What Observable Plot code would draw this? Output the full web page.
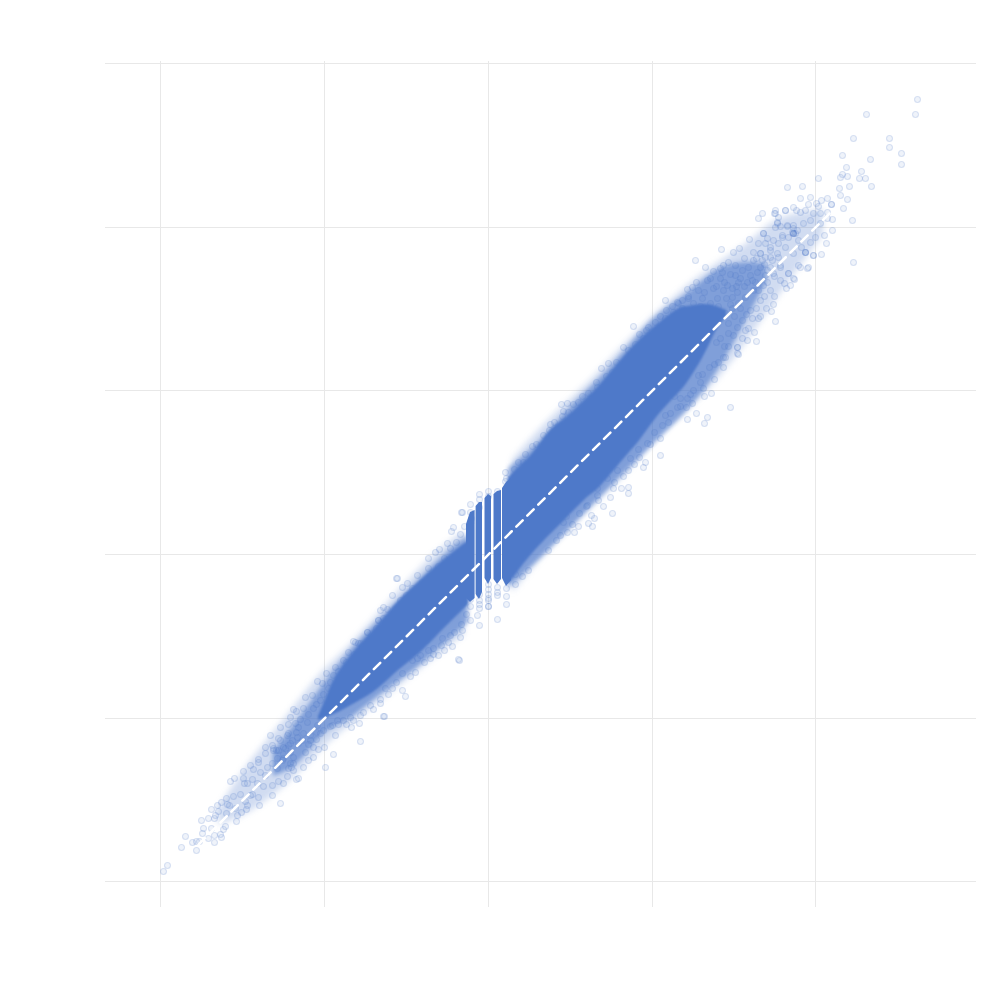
<!DOCTYPE html>
<html>
<head>
<meta charset="utf-8">
<script src="https://cdn.jsdelivr.net/npm/d3@7"></script>
<script src="https://cdn.jsdelivr.net/npm/@observablehq/plot@0.6"></script>
<style>html,body{margin:0;padding:0;background:#fff}svg{display:block}</style>
</head>
<body>
<div id="chart"></div>
<script>
// Values. The reference prints no tick labels, so the units are
// its own grid: one grid interval = 164 units, origin where the dashed line crosses the centre grid.
const xTicks = [-328,-164,0,164,327];
const yTicks = [-327,-164,0,164,327,491];
const refX = [-290,341];
const refY = [-290,341];

const lowerTail = [[-325,-317],[-321,-311],[-307,-293],[-303,-282],[-292,-296],[-296,-288],[-292,-287],[-289,-287],[-286,-279],[-285,-274],[-287,-266],[-280,-264],[-277,-274],[-280,-284],[-274,-288],[-274,-281],[-268,-280],[-267,-283],[-265,-275],[-263,-272],[-274,-264],[-273,-261],[-277,-255],[-270,-257],[-271,-251],[-267,-248],[-262,-244],[-261,-250],[-259,-251],[-262,-259],[-255,-242],[-253,-254],[-251,-261],[-252,-267],[-247,-258],[-248,-240],[-242,-255],[-241,-251],[-243,-247],[-238,-241],[-236,-240],[-230,-243],[-229,-251],[-258,-227],[-254,-224],[-245,-217],[-244,-229],[-245,-224],[-241,-229],[-236,-225],[-231,-229],[-235,-215],[-230,-205],[-238,-211],[-223,-193],[-218,-181],[-225,-232],[-216,-241],[-208,-249],[-205,-229],[-210,-227],[-216,-231],[-223,-221],[-228,-218],[-221,-213],[-216,-209],[-211,-214],[-205,-204],[-200,-214],[-195,-216],[-201,-222],[-192,-225],[-190,-224],[-198,-209],[-195,-209],[-215,-196],[-210,-196],[-205,-193],[-200,-191],[-196,-186],[-191,-183],[-201,-181],[-210,-184],[-216,-191],[-223,-199],[-230,-208]];

const lowerMid = [[-163,-213],[-155,-200],[-185,-213],[-197,-213],[-180,-206],[-175,-193],[-164,-193],[-170,-195],[-208,-173],[-198,-163],[-195,-155],[-192,-157],[-185,-154],[-183,-143],[-176,-141],[-171,-127],[-166,-129],[-162,-119],[-153,-113],[-145,-106],[-140,-98],[-135,-87],[-130,-89],[-121,-78],[-110,-66],[-137,-173],[-129,-169],[-128,-187],[-104,-162],[-108,-149],[-86,-136],[-83,-142],[-73,-118],[-86,-119],[-71,-104],[-103,-134],[-96,-134],[-118,-151],[-128,-161],[-138,-163],[-145,-166],[-153,-181],[-156,-171],[-168,-179],[-183,-198],[-195,-203],[-190,-189],[-203,-194],[-211,-204],[-215,-194],[-208,-186],[-200,-179],[-190,-173],[-181,-168],[-193,-169],[-175,-154],[-168,-146],[-160,-134],[-155,-121],[-151,-166],[-178,-181],[-171,-171],[-163,-161],[-185,-179],[-198,-189],[-206,-206],[-178,-186],[-175,-203],
[-188,-165],[-180,-160],[-172,-150],[-165,-140],[-158,-128],[-150,-117],[-142,-108],[-134,-100],[-126,-92],[-118,-84],[-112,-74],[-103,-68],[-95,-60],[-172,-185],[-165,-176],[-158,-172],[-150,-170],[-142,-170],[-135,-166],[-125,-158],[-115,-155],[-108,-145],[-100,-140],[-92,-128],[-78,-122],[-200,-170],[-192,-178],[-186,-186],[-180,-190],[-172,-178],[-205,-200],[-212,-196],[-198,-198]];

const centreLeft = [[-91,-24],[-96,-41],[-105,-53],[-108,-56],[-101,-55],[-110,-66],[-105,-64],[-121,-78],[-133,-88],[-128,-89],[-86,-33],[-81,-29],[-76,-34],[-71,-21],[-60,-4],[-60,-14],[-53,2],[-49,5],[-41,11],[-37,23],[-35,27],[-26,42],[-17,36],[-28,-83],[-38,-81],[-27,-70],[-9,-71],[9,-65],[0,-52],[0,-44],[-9,-54],[-11,-61],[-18,-66],[-47,-91],[-55,-94],[-60,-96],[-50,-101],[-58,-104],[-30,-105],[-68,-101],[-29,-106],[-105,-162],[-92,-24],[-27,42],
[-88,-46],[-82,-41],[-74,-40],[-66,-28],[-58,-22],[-50,-12],[-44,-4],[-38,6],[-32,12],[-28,20],[-24,28],[-76,-106],[-64,-108],[-55,-100],[-44,-96],[-40,-88],[-34,-78],[-26,-76],[-22,-60],[-36,-92],[-62,-86],[-46,-84]];

const centreColumns = [[0,63],[0,58],[-9,55],[-9,47],[9,63],[0,-30],[0,-35],[0,-40],[0,-46],[-9,-40],[-9,-46],[-9,-50],[9,-33],[9,-38],[9,-41],[-18,42],[-18,-45],[-18,-52],[18,76],[18,-34],[18,-42],[-18,50],[-9,60],[0,-52],[18,-50],[27,-20],[27,-30],[34,-22],[40,-16]];

const upperMid = [[17,82],[17,73],[26,85],[35,92],[37,100],[44,108],[55,119],[62,130],[61,124],[73,150],[79,151],[85,150],[75,143],[74,138],[90,152],[100,161],[140,67],[140,61],[133,66],[125,66],[122,57],[115,48],[124,41],[103,39],[106,36],[100,31],[104,28],[90,28],[91,41],[86,22],[79,22],[75,32],[157,92],[155,87],[150,105],[151,97],[142,96],[135,78],[140,84],[129,84],[109,66],[119,76],[99,49],[109,59],[72,19],[172,99],[145,228],[135,207],[147,210],[120,191],[113,186],[109,167],[124,182],[151,220],[155,216],[167,232],[160,227],[177,236],[178,244],[177,254],[190,251],[185,242],[194,246],[242,147],[226,175],[219,137],[216,131],[199,135],[208,141],[204,151],[198,147],[223,161],[216,158],[215,166],[199,156],[205,164],[210,179],[221,187],[235,187],[237,197],[230,192],[249,207],[249,201],[240,221],[172,116],[182,141],[174,129],[177,139],[159,111],[189,147],[192,156],
[30,92],[48,110],[66,132],[80,142],[94,158],[108,172],[118,178],[128,192],[140,204],[158,224],[172,238],[184,248],[200,256],[98,48],[110,54],[126,72],[146,90],[162,110],[166,122],[180,132],[192,148],[202,160],[212,172],[226,190],[236,208],[228,212],[214,180],[186,158],[84,30],[68,14],[60,4],[78,38]];

const upperTail = [[207,294],[217,287],[233,305],[225,283],[232,286],[245,302],[251,306],[261,315],[275,321],[270,311],[265,302],[279,316],[282,307],[290,311],[294,319],[289,331],[299,329],[270,336],[274,341],[287,341],[297,344],[307,321],[305,326],[310,314],[317,302],[325,299],[310,289],[320,287],[300,281],[306,275],[296,271],[302,269],[298,266],[282,264],[286,258],[285,250],[283,243],[287,233],[270,236],[264,236],[268,213],[259,214],[266,222],[260,226],[249,207],[250,200],[240,208],[235,197],[262,244],[254,234],[272,254],[265,264],[257,257],[250,251],[244,246],[237,241],[244,266],[250,272],[239,269],[232,276],[225,266],[219,274],[210,264],[199,265],[204,267],[194,254],[189,252],[205,251],[214,256],[269,282],[277,279],[260,287],[254,284],[247,289],[240,292],[235,289],[272,301],[265,294],[282,297],[290,297],[274,294],[282,287],[292,289],[259,272],[275,269],[267,272],[262,279],[279,272],[247,279],[235,264],[229,256],[222,251],[249,262],[244,257],[219,246],[249,227],[257,224],[245,219],[254,216],[240,231],[232,216],
[228,268],[236,272],[242,280],[252,276],[256,268],[264,274],[270,264],[276,258],[252,246],[246,238],[258,240],[268,246],[238,256],[230,248],[224,240],[216,262],[208,272],[200,258],[242,250],[276,290],[268,296],[256,296],[286,278],[292,274],[278,246],[272,238],[248,268],[234,282],[222,276],[212,248]];

const topTail = [[429,455],[427,440],[378,440],[365,416],[401,416],[401,407],[413,401],[413,390],[354,399],[382,395],[358,387],[373,383],[354,380],[352,377],[359,378],[371,376],[377,376],[330,376],[383,368],[361,368],[351,366],[314,368],[299,367],[352,359],[359,355],[322,357],[312,356],[339,356],[333,354],[328,351],[343,350],[343,350],[320,350],[305,347],[297,344],[287,344],[286,341],[290,337],[355,346],[330,348],[317,344],[308,344],[312,342],[325,341],[332,341],[339,342],[364,334],[344,335],[339,336],[332,331],[322,334],[315,331],[305,329],[299,328],[292,328],[287,327],[289,332],[344,324],[336,319],[327,317],[338,311],[322,312],[333,300],[325,299],[317,302],[317,302],[313,307],[305,321],[305,321],[305,321],[304,322],[309,324],[300,317],[294,317],[275,321],[285,314],[297,307],[289,301],[282,304],[277,311],[272,301],[365,292],[305,301],[312,287],[319,286],[300,281],[292,287],[284,294],[277,297],[305,276],[285,281],[279,284],[272,287]];

const allPoints = [...lowerTail,...lowerMid,...centreLeft,...centreColumns,...upperMid,...upperTail,...topTail];

// Near-solid core of the cloud: [x, upper edge, lower edge, run].
const coreLeft = [[-170,-162,-166,"a"],[-160,-138,-162,"a"],[-150,-118,-158,"a"],[-130,-92,-147,"a"],[-110,-70,-134,"a"],[-90,-47,-116,"a"],[-70,-28,-100,"a"],[-50,-10,-80,"a"],[-30,6,-60,"a"],[-20,14,-50,"a"]];
const coreRight = [[20,76,-30,"g"],[32,89,-14,"g"],[45,102,2,"g"],[62,124,20,"g"],[79,138,37,"g"],[99,157,57,"g"],[112,170,68,"g"],[135,197,95,"g"],[152,215,115,"g"],[169,230,138,"g"],[189,245,160,"g"],[199,248,172,"g"],[215,250,198,"g"],[228,248,224,"g"],[238,244,238,"g"]];
// Near-vertical columns by x = 0, separated by the white stripes.
const columns = [[-22,30,-44,"b"],[-18,42,-48,"b"],[-13.4,44,-44,"b"],[-12.4,48,-40,"c"],[-9,52,-45,"c"],[-6,52,-38,"c"],[-3.5,56,-24,"d"],[0,60,-30,"d"],[3,58,-24,"d"],[5.5,60,-25,"e"],[9,63,-30,"e"],[13,64,-25,"e"],[14,66,-24,"f"],[18,72,-32,"f"],[23,76,-26,"f"]];
// Half-dense layer of overlapping dots round the core, then the pale outer layer.
const midBand = [[-215,-197,-222,"a"],[-190,-165,-208,"a"],[-165,-130,-180,"a"],[-140,-98,-165,"a"],[-110,-66,-142,"a"],[-80,-36,-120,"a"],[-50,-6,-95,"a"],[-20,20,-68,"a"],[20,86,-34,"b"],[50,112,-6,"b"],[80,145,24,"b"],[110,175,55,"b"],[140,208,85,"b"],[170,240,115,"b"],[200,262,145,"b"],[230,285,185,"b"],[260,292,238,"b"],[278,290,272,"b"]];
const hazeBand = [[-270,-255,-270,"a"],[-240,-210,-258,"a"],[-200,-160,-228,"a"],[-170,-122,-198,"a"],[-140,-92,-172,"a"],[-100,-48,-140,"a"],[-60,-6,-108,"a"],[-24,24,-80,"a"],[24,94,-38,"b"],[60,134,4,"b"],[100,172,44,"b"],[140,214,84,"b"],[180,252,128,"b"],[220,285,165,"b"],[260,312,215,"b"],[290,335,258,"b"],[335,345,320,"b"]];

const blue = "#4e79c9";
const band = (rows, o) => Plot.areaY(rows, {x:d=>d[0], y1:d=>d[1], y2:d=>d[2], z:d=>d[3], fill:blue, curve:"natural", ...o});

const chart = Plot.plot({
  width:999, height:998,
  marginLeft:105, marginRight:23, marginTop:61, marginBottom:91,
  style:{background:"#fff"},
  x:{domain:[-383,488], axis:null},
  y:{domain:[-353,493], axis:null},
  marks:[
    Plot.ruleX(xTicks,{stroke:"#e8e8e8",strokeWidth:1}),
    Plot.ruleY(yTicks,{stroke:"#e8e8e8",strokeWidth:1}),
    band(hazeBand,{fillOpacity:.26,imageFilter:"blur(3px)"}),
    band(midBand,{fillOpacity:.62,imageFilter:"blur(2px)"}),
    Plot.dot(allPoints,{x:d=>d[0],y:d=>d[1],r:3,fill:blue,fillOpacity:.09,stroke:blue,strokeOpacity:.2,strokeWidth:1.1,imageFilter:"blur(0.3px)"}),
    band(coreLeft,{fillOpacity:1,imageFilter:"blur(1.2px)"}),
    band(coreRight,{fillOpacity:1,imageFilter:"blur(1.2px)"}),
    Plot.areaY(columns,{x:d=>d[0],y1:d=>d[1],y2:d=>d[2],z:d=>d[3],fill:blue,imageFilter:"blur(0.5px)"}),
    Plot.line(refX.map((x,i)=>[x,refY[i]]),{x:d=>d[0],y:d=>d[1],stroke:"#fff",strokeWidth:2.5,strokeDasharray:"9,6.5"})
  ]
});
document.getElementById("chart").append(chart);
</script>
</body>
</html>
